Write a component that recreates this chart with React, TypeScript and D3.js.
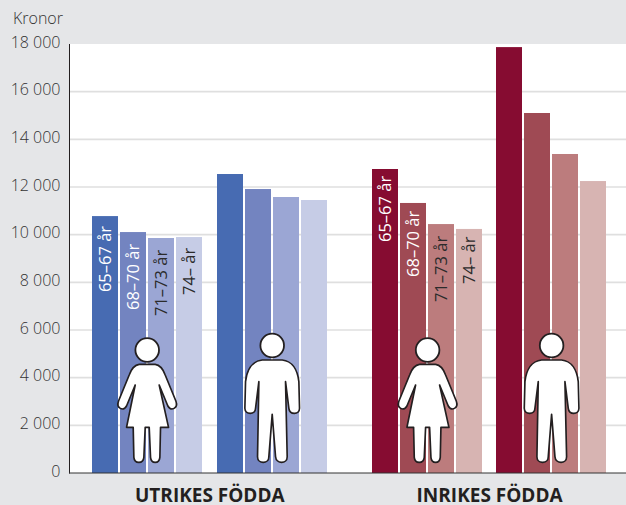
import React from "react";
import * as d3 from "d3";

const yTicks = [0, 2000, 4000, 6000, 8000, 10000, 12000, 14000, 16000, 18000];
const origins = ["UTRIKES FÖDDA", "INRIKES FÖDDA"];
const sexes = ["kvinnor", "män"];
const ages = ["65–67 år", "68–70 år", "71–73 år", "74– år"];
const utrikesKvinnor = [10780, 10110, 9860, 9900];
const utrikesMan = [12545, 11915, 11580, 11455];
const inrikesKvinnor = [12755, 11330, 10445, 10240];
const inrikesMan = [17870, 15105, 13385, 12250];
const values: Record<string, number[]> = {
  "UTRIKES FÖDDA|kvinnor": utrikesKvinnor,
  "UTRIKES FÖDDA|män": utrikesMan,
  "INRIKES FÖDDA|kvinnor": inrikesKvinnor,
  "INRIKES FÖDDA|män": inrikesMan,
};
const blues = ["#476bb2", "#7384c0", "#9ba6d4", "#c6cce6"];
const reds = ["#860c31", "#9f4a54", "#bc7c7d", "#d7b4b2"];
const labelColors = ["#ffffff", "#ffffff", "#2b2b2b", "#2b2b2b"];

const W = 626, H = 505;
const FONT = "'Open Sans', sans-serif";
const labelDrop = [[76, 78, 78, 58], [73, 74, 78, 55]];

const y = d3.scaleLinear().domain([0, 18000]).range([473, 44]);
const xOrigin = d3.scaleBand<string>().domain(origins).range([92, 92 + 279.8 + 234.6]).paddingInner(45.2 / 279.8);
const xSex = d3.scaleBand<string>().domain(sexes).range([0, 234.6]).paddingInner(14.6 / 124.6);
const xAge = d3.scaleBand<string>().domain(ages).range([0, 110]).paddingInner(2 / 28);

const WOMAN = "M88,103 L136,103 C152,105 160,118 166,135 L198,213 C206,235 184,245 174,228 L148,165 L176,292 L152,292 L150,382 C148,402 124,402 122,382 L118,292 L106,292 L102,382 C100,402 74,402 72,382 L70,292 L50,292 L76,165 L50,228 C40,245 18,235 26,213 L58,135 C64,118 72,105 88,103 Z";
const MAN = "M80,105 L140,105 C170,108 186,135 190,170 L192,250 C192,270 162,270 160,250 L150,170 L155,395 C155,418 122,418 120,395 L110,268 L100,395 C100,418 66,418 66,395 L70,170 L60,250 C60,270 28,270 28,250 L30,170 C34,135 50,108 80,105 Z";

export default function App() {
  return (
    <svg width={W} height={H} style={{ position: "absolute", left: 0, top: 0 }} fontFamily={FONT}>
      <rect width={W} height={H} fill="#e5e6e8" />
      <rect x={70} y={y(18000)} width={W - 70} height={y(0) - y(18000)} fill="#ffffff" />
      {yTicks.filter((t) => t > 0 && t < 18000).map((t) => (
        <line key={t} x1={70} x2={W} y1={y(t)} y2={y(t)} stroke="#dfdfdf" strokeWidth={1.6} />
      ))}
      {yTicks.map((t) => (
        <text key={t} x={60.5} y={y(t) + 3.5} textAnchor="end" fontSize={16} fontWeight={300} fill="#333333">
          {d3.format(",")(t).replace(/,/g, " ")}
        </text>
      ))}
      <text x={13} y={24} fontSize={16} fontWeight={300} fill="#333333">Kronor</text>
      {origins.map((o, oi) => (
        <g key={o}>
          {sexes.map((s, si) => {
            const x0 = Math.round(xOrigin(o)! + xSex(s)!);
            const vals = values[`${o}|${s}`];
            const cx = xSex.bandwidth() / 2 + (oi === 1 ? 0.6 : 0.2);
            const isW = si === 0;
            return (
              <g key={s} transform={`translate(${x0},0)`}>
                {ages.map((a, ai) => (
                  <rect key={a} x={xAge(a)} y={y(vals[ai])} width={xAge.bandwidth()}
                    height={y(0) - y(vals[ai])} fill={(oi === 0 ? blues : reds)[ai]} />
                ))}
                {isW && ages.map((a, ai) => {
                  const lx = xAge(a)! + xAge.bandwidth() / 2 + 6;
                  const ly = y(vals[ai]) + labelDrop[oi][ai];
                  return (
                    <text key={a} transform={`translate(${lx},${ly}) rotate(-90)`} fontSize={16.5}
                      fontWeight={400} fill={labelColors[ai]}>{a}</text>
                  );
                })}
                <circle cx={cx} cy={isW ? 350 : 345.5} r={11.8} fill="#fff" stroke="#231f20" strokeWidth={1.8} />
                <path d={isW ? WOMAN : MAN}
                  transform={`translate(${cx - (isW ? 112 : 110) / 3},${isW ? 330 : 325}) scale(${1 / 3})`}
                  fill="#fff" stroke="#231f20" strokeWidth={5} strokeLinejoin="round" />
              </g>
            );
          })}
          <text x={xOrigin(o)! + xOrigin.bandwidth() / 2 + 0.5} y={502} textAnchor="middle" fontSize={19} fontWeight={700} fill="#231f20">{o}</text>
        </g>
      ))}
      <line x1={69.5} x2={69.5} y1={y(18000)} y2={y(0) + 0.5} stroke="#231f20" strokeWidth={1} />
      <line x1={69} x2={W} y1={y(0)} y2={y(0)} stroke="#333" strokeWidth={1} />
    </svg>
  );
}
